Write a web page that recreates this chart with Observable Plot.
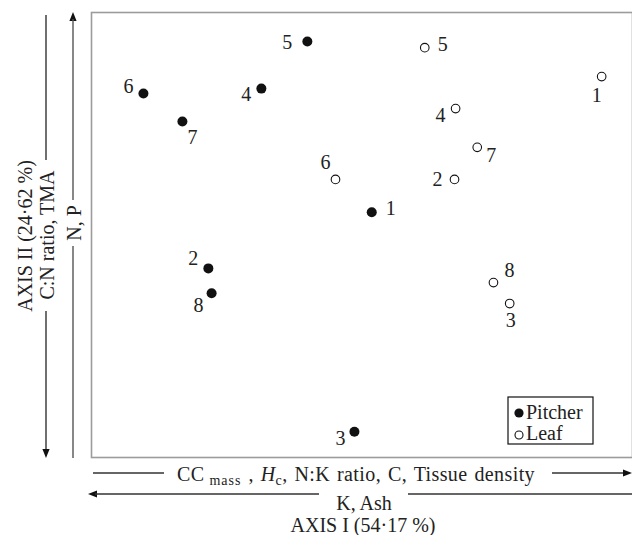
<!DOCTYPE html>
<html><head><meta charset="utf-8">
<script src="https://cdn.jsdelivr.net/npm/d3@7"></script>
<script src="https://cdn.jsdelivr.net/npm/@observablehq/plot@0.6"></script>
<style>body{margin:0;background:#fff}</style>
</head><body><div id="chart"></div>
<script>
// ---- data (PCA scores, arbitrary units) ----
const ids = ["1", "2", "3", "4", "5", "6", "7", "8"];
const pitcherAxis1 = [5.18, 2.16, 4.86, 3.14, 3.99, 0.96, 1.68, 2.22];
const pitcherAxis2 = [5.51, 4.25, 0.58, 8.29, 9.35, 8.18, 7.55, 3.69];
const leafAxis1 = [9.43, 6.71, 7.73, 6.73, 6.16, 4.51, 7.13, 7.43];
const leafAxis2 = [8.56, 6.25, 3.46, 7.84, 9.21, 6.25, 6.97, 3.93];
const groups = ["Pitcher", "Leaf"];
const axis1Title = "AXIS I (54·17 %)";
const axis2Title = "AXIS II (24·62 %)";

const pitcher = ids.map((id, i) => ({group: "Pitcher", id, a1: pitcherAxis1[i], a2: pitcherAxis2[i]}));
const leaf = ids.map((id, i) => ({group: "Leaf", id, a1: leafAxis1[i], a2: leafAxis2[i]}));

// label placement (pixel offsets from each point)
const labelOffset = {
  Pitcher: [[19,-4],[-15,-10],[-14,7],[-15,6],[-20,1],[-15,-7],[10,16],[-13,12]],
  Leaf:    [[-5,19],[-17,0],[1,17],[-15,7],[18,-3],[-10,-17],[14,8],[16,-12]]
};

const font = "'Liberation Serif', 'Times New Roman', serif";
const labelMarks = [...pitcher, ...leaf].map((d, i) => {
  const [dx, dy] = labelOffset[d.group][ids.indexOf(d.id)];
  return Plot.text([d], {x: "a1", y: "a2", text: "id", dx, dy, fontSize: 20, fill: "#222"});
});

const chart = Plot.plot({
  width: 632, height: 535,
  marginLeft: 91, marginRight: 0, marginTop: 12, marginBottom: 78,
  style: {fontFamily: font, background: "white", overflow: "visible"},
  x: {domain: [0, 10], axis: null},
  y: {domain: [0, 10], axis: null},
  marks: [
    Plot.frame({stroke: "#9c9c9c", strokeWidth: 1.6}),
    Plot.dot(pitcher, {x: "a1", y: "a2", r: 5, fill: "#111", stroke: "none"}),
    Plot.dot(leaf, {x: "a1", y: "a2", r: 4.3, fill: "white", stroke: "#111", strokeWidth: 1.1}),
    ...labelMarks
  ]
});
document.getElementById("chart").appendChild(chart);

// ---- axis annotations (arrows and texts outside the frame) ----
const svg = d3.select(chart);
const g = svg.append("g").attr("font-family", font).attr("fill", "#222").attr("text-anchor", "start");
const lineColor = "#333";
function seg(x1, y1, x2, y2, color) {
  g.append("line").attr("x1", x1).attr("y1", y1).attr("x2", x2).attr("y2", y2)
    .attr("stroke", color || lineColor).attr("stroke-width", 1.4);
}
function head(x, y, dir) { // filled arrowhead with tip at (x,y)
  const L = 9, W = 3.6;
  let pts;
  if (dir === "down") pts = [[x, y], [x - W, y - L], [x + W, y - L]];
  if (dir === "up") pts = [[x, y], [x - W, y + L], [x + W, y + L]];
  if (dir === "right") pts = [[x, y], [x - L, y - W], [x - L, y + W]];
  if (dir === "left") pts = [[x, y], [x + L, y - W], [x + L, y + W]];
  g.append("path").attr("d", "M" + pts.map(p => p.join(",")).join("L") + "Z").attr("fill", "#111");
}
function vtext(x, y, txt) {
  g.append("text").attr("transform", `translate(${x},${y}) rotate(-90)`)
    .attr("text-anchor", "middle").attr("dy", "0.33em").attr("font-size", 20).text(txt);
}

// left side
vtext(25, 236, axis2Title);
seg(46, 15, 46, 160);
vtext(47.5, 235, "C:N ratio, TMA");
seg(46, 311, 46, 450);
head(46, 458, "down");
head(73, 12, "up");
seg(73, 19, 73, 200, "#555");
vtext(74.5, 223, "N, P");
seg(73, 246, 73, 458, "#555");

// bottom
seg(93, 473, 164, 473);
const t1 = g.append("text").attr("x", 177).attr("y", 481).attr("font-size", 20)
  .attr("text-anchor", "start").attr("letter-spacing", 0.4).attr("word-spacing", 1.5);
t1.append("tspan").text("CC");
t1.append("tspan").attr("font-size", 14).attr("dy", 4).attr("dx", 5).attr("letter-spacing", 1).text("mass");
t1.append("tspan").attr("dy", -4).text(" , ");
t1.append("tspan").attr("font-style", "italic").text("H");
t1.append("tspan").attr("font-size", 14).attr("dy", 4).text("c");
t1.append("tspan").attr("dy", -4).text(", N:K ratio, C, Tissue density");
seg(552, 473, 624, 473);
head(632, 473, "right");

head(88, 494, "left");
seg(95, 494, 319, 494);
g.append("text").attr("x", 364).attr("y", 510).attr("text-anchor", "middle").attr("font-size", 20).text("K, Ash");
seg(408, 494, 632, 494);
g.append("text").attr("x", 363).attr("y", 532).attr("text-anchor", "middle").attr("font-size", 20).text(axis1Title);

// legend
g.append("rect").attr("x", 508).attr("y", 397).attr("width", 85).attr("height", 47)
  .attr("fill", "white").attr("stroke", "#111").attr("stroke-width", 1.2);
g.append("circle").attr("cx", 519).attr("cy", 413).attr("r", 4.6).attr("fill", "#111");
g.append("text").attr("x", 526).attr("y", 419).attr("font-size", 20).attr("text-anchor", "start").text(groups[0]);
g.append("circle").attr("cx", 519).attr("cy", 435).attr("r", 4).attr("fill", "white").attr("stroke", "#111").attr("stroke-width", 1.1);
g.append("text").attr("x", 526).attr("y", 440).attr("font-size", 20).attr("text-anchor", "start").text(groups[1]);
</script>
</body></html>
